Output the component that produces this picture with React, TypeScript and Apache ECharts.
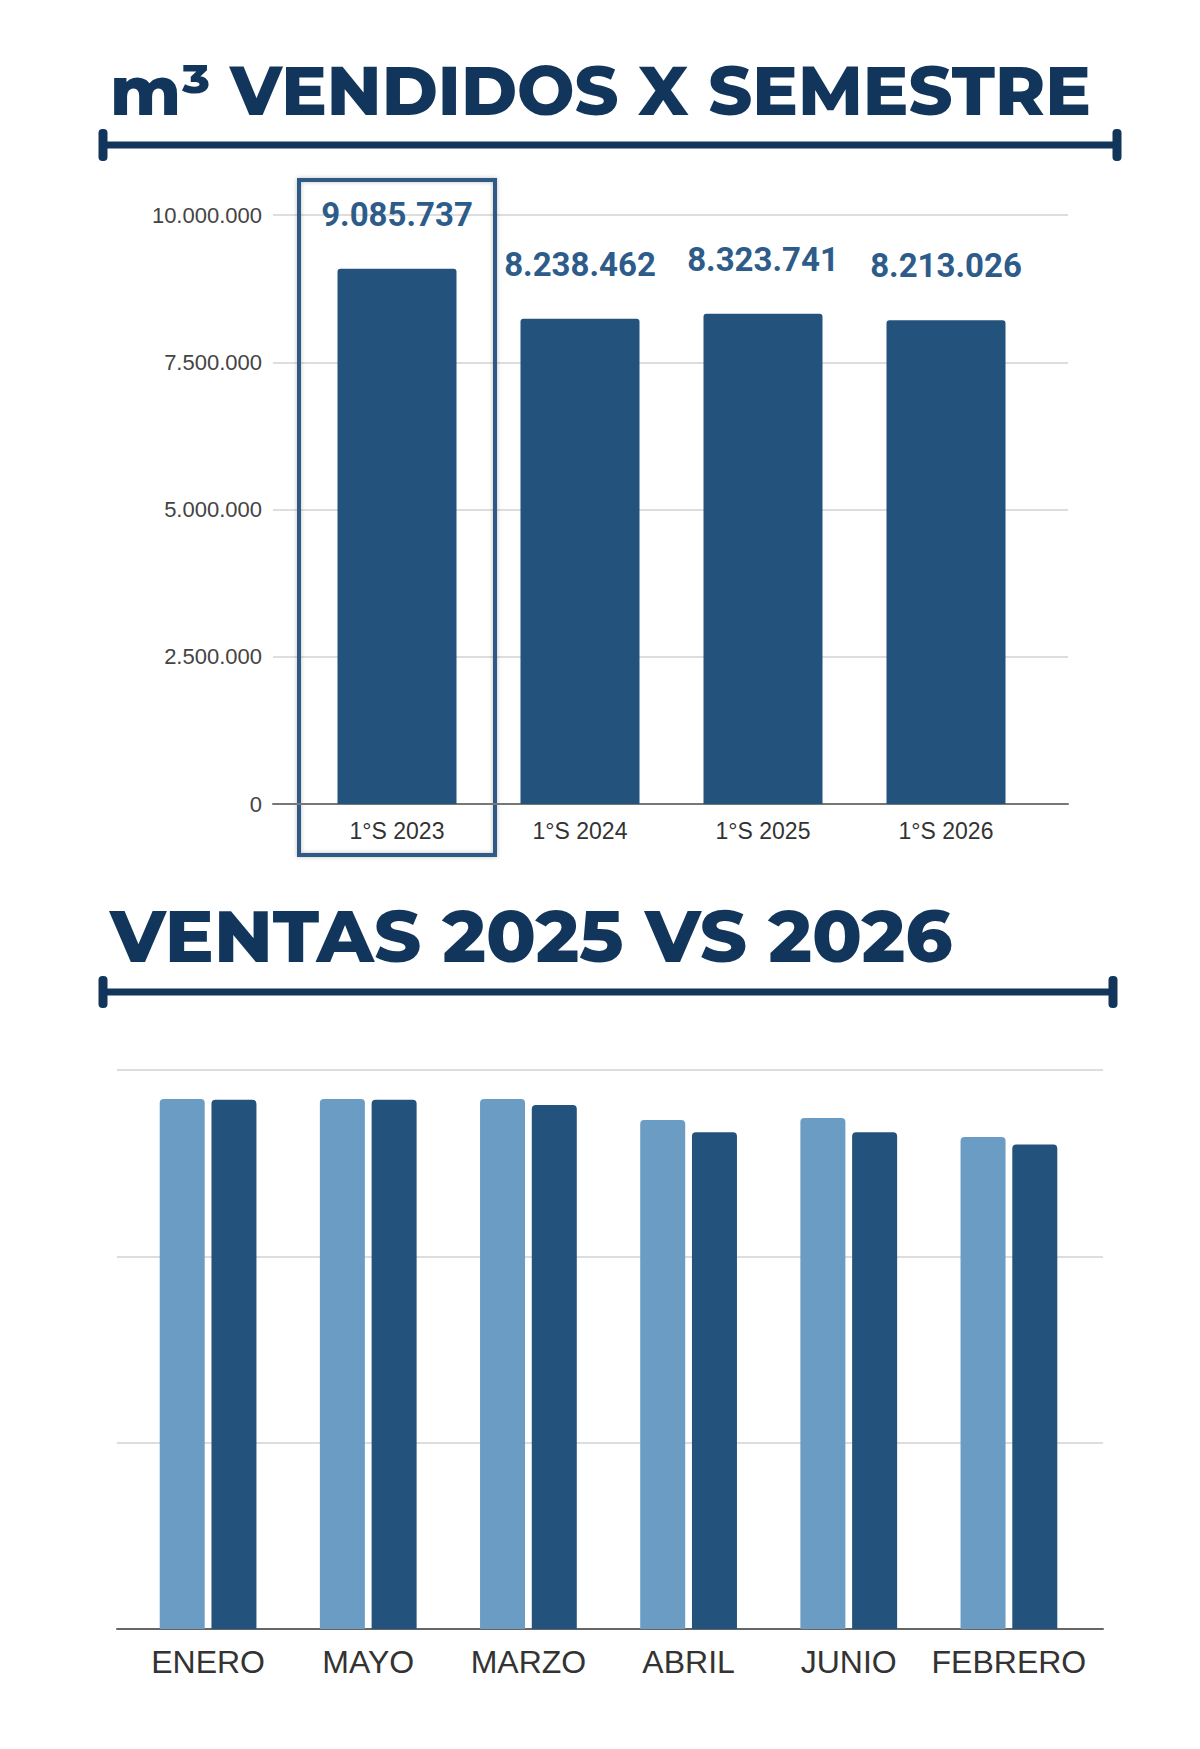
import { useEffect, useRef } from "react";
import * as echarts from "echarts";

// --- data ---
const semesterCategories = ["1°S 2023", "1°S 2024", "1°S 2025", "1°S 2026"];
const semesterValues = [9085737, 8238462, 8323741, 8213026];
const semesterTicks = [0, 2500000, 5000000, 7500000, 10000000];

const monthCategories = ["ENERO", "MAYO", "MARZO", "ABRIL", "JUNIO", "FEBRERO"];
const sales2025 = [1422000, 1422000, 1422000, 1366000, 1371000, 1320000];
const sales2026 = [1420000, 1420000, 1406000, 1333000, 1333000, 1300000];
const monthTicks = [0, 500000, 1000000, 1500000];

const NAVY = "#12355b";
const BAR_DARK = "#23527c";
const BAR_LIGHT = "#6b9dc4";
const GRID_LINE = "#dddddd";

const fmt = (v: number) => String(Math.round(v)).replace(/\B(?=(\d{3})+(?!\d))/g, ".");

const ruler = (x1: number, x2: number, y: number) => [
    {
        type: "line",
        shape: { x1, y1: y, x2, y2: y },
        style: { stroke: NAVY, lineWidth: 7 },
    },
    {
        type: "rect",
        shape: { x: x1 - 4.5, y: y - 16, width: 9, height: 32, r: 4 },
        style: { fill: NAVY },
    },
    {
        type: "rect",
        shape: { x: x2 - 4.5, y: y - 16, width: 9, height: 32, r: 4 },
        style: { fill: NAVY },
    },
];

export default function App() {
    const chartRef = useRef<HTMLDivElement>(null);

    useEffect(() => {
        document.body.style.margin = "0";
        if (!chartRef.current) return;
        const chart = echarts.init(chartRef.current, null, { renderer: "svg" });

        const hiddenValueX = (gridIndex: number, lineColor: string) => ({
            type: "value" as const,
            gridIndex,
            min: 0,
            max: 1,
            axisLine: { show: true, onZero: false, lineStyle: { color: lineColor, width: 2 } },
            axisTick: { show: false },
            axisLabel: { show: false },
            splitLine: { show: false },
        });

        const options: echarts.EChartsOption = {
            animation: false,
            backgroundColor: "#ffffff",
            grid: [
                { left: 273, top: 215, width: 795, height: 589 },
                { left: 305.5, top: 215, width: 732, height: 589 },
                { left: 117, top: 1070, width: 986, height: 559 },
                { left: 128, top: 1070, width: 961, height: 559 },
            ],
            xAxis: [
                hiddenValueX(0, "#777777"),
                {
                    type: "category",
                    gridIndex: 1,
                    data: semesterCategories,
                    axisLine: { show: false },
                    axisTick: { show: false },
                    axisLabel: {
                        color: "#333333",
                        fontFamily: "'Liberation Sans', Arial, sans-serif",
                        fontSize: 23,
                        margin: 15,
                        interval: 0,
                    },
                },
                hiddenValueX(2, "#666666"),
                {
                    type: "category",
                    gridIndex: 3,
                    data: monthCategories,
                    axisLine: { show: false },
                    axisTick: { show: false },
                    axisLabel: {
                        color: "#333333",
                        fontFamily: "'Liberation Sans', Arial, sans-serif",
                        fontSize: 32,
                        margin: 17,
                        interval: 0,
                    },
                },
            ],
            yAxis: [
                {
                    type: "value",
                    gridIndex: 0,
                    min: semesterTicks[0],
                    max: semesterTicks[semesterTicks.length - 1],
                    interval: semesterTicks[1] - semesterTicks[0],
                    axisLine: { show: false },
                    axisTick: { show: false },
                    axisLabel: {
                        color: "#444444",
                        fontFamily: "'Liberation Sans', Arial, sans-serif",
                        fontSize: 22,
                        margin: 11,
                        formatter: (v: number) => fmt(v),
                    },
                    splitLine: { lineStyle: { color: GRID_LINE, width: 2 } },
                },
                {
                    type: "value",
                    gridIndex: 1,
                    min: semesterTicks[0],
                    max: semesterTicks[semesterTicks.length - 1],
                    show: false,
                },
                {
                    type: "value",
                    gridIndex: 2,
                    min: monthTicks[0],
                    max: monthTicks[monthTicks.length - 1],
                    interval: monthTicks[1] - monthTicks[0],
                    axisLine: { show: false },
                    axisTick: { show: false },
                    axisLabel: { show: false },
                    splitLine: { lineStyle: { color: GRID_LINE, width: 2 } },
                },
                {
                    type: "value",
                    gridIndex: 3,
                    min: monthTicks[0],
                    max: monthTicks[monthTicks.length - 1],
                    show: false,
                },
            ],
            series: [
                {
                    name: "m³",
                    type: "bar",
                    xAxisIndex: 1,
                    yAxisIndex: 1,
                    data: semesterValues,
                    barWidth: 119,
                    itemStyle: { color: BAR_DARK, borderRadius: [3, 3, 0, 0] },
                    label: {
                        show: true,
                        position: "top",
                        distance: 38,
                        color: "#2e5c8a",
                        fontFamily: "Roboto, sans-serif",
                        fontWeight: 700,
                        fontSize: 33,
                        formatter: (p: any) => fmt(p.value),
                    },
                },
                {
                    name: "2025",
                    type: "bar",
                    xAxisIndex: 3,
                    yAxisIndex: 3,
                    data: sales2025,
                    barWidth: 45,
                    barGap: "15%",
                    itemStyle: { color: BAR_LIGHT, borderRadius: [4, 4, 0, 0] },
                },
                {
                    name: "2026",
                    type: "bar",
                    xAxisIndex: 3,
                    yAxisIndex: 3,
                    data: sales2026,
                    barWidth: 45,
                    barGap: "15%",
                    itemStyle: { color: BAR_DARK, borderRadius: [4, 4, 0, 0] },
                },
            ],
            tooltip: { show: false },
        };

        chart.setOption(options);

        // highlight box round the first semester, placed from the axes
        const cx = chart.convertToPixel({ xAxisIndex: 1 }, semesterCategories[0]) as number;
        const yTop = chart.convertToPixel({ yAxisIndex: 1 }, semesterTicks[semesterTicks.length - 1]) as number;
        const yBase = chart.convertToPixel({ yAxisIndex: 1 }, 0) as number;

        chart.setOption({
            graphic: [
                {
                    type: "text",
                    style: {
                        text: "m³ VENDIDOS X SEMESTRE",
                        x: 110,
                        y: 90,
                        verticalAlign: "middle",
                        font: "800 68px Montserrat, Inter, 'Open Sans', sans-serif",
                        fill: NAVY,
                    },
                },
                ...ruler(103, 1117, 145),
                {
                    type: "text",
                    style: {
                        text: "VENTAS 2025 VS 2026",
                        x: 110,
                        y: 935,
                        verticalAlign: "middle",
                        font: "800 73px Montserrat, Inter, 'Open Sans', sans-serif",
                        fill: NAVY,
                    },
                },
                ...ruler(103, 1113, 992),
                {
                    type: "rect",
                    shape: { x: cx - 98, y: yTop - 35, width: 196, height: yBase - yTop + 86 },
                    style: {
                        fill: "none",
                        stroke: "#2d5a85",
                        lineWidth: 4,
                        shadowBlur: 4,
                        shadowColor: "rgba(0,0,0,0.25)",
                    },
                },
            ],
        });

        const handleResize = () => chart.resize();
        window.addEventListener("resize", handleResize);
        return () => {
            window.removeEventListener("resize", handleResize);
            chart.dispose();
        };
    }, []);

    return <div ref={chartRef} style={{ width: "1200px", height: "1749px" }} />;
}
